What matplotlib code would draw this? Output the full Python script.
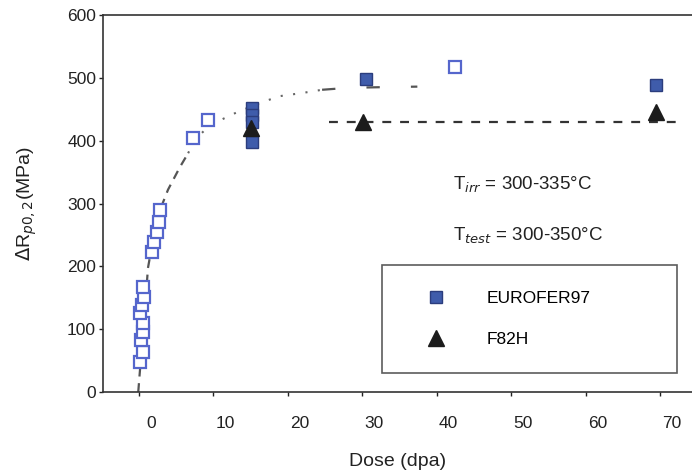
import matplotlib.pyplot as plt
import matplotlib.transforms as mtransforms

plt.rcParams['font.family'] = ['Liberation Sans', 'DejaVu Sans']

# open squares (EUROFER97, other irradiations)
open_dose = [0.1, 0.5, 0.3, 0.6, 0.5, 0.2, 0.4, 0.7, 0.5, 1.7, 2.0, 2.4, 2.7, 2.8, 7.3, 9.3, 42.5]
open_val = [48, 64, 83, 96, 110, 126, 139, 151, 167, 223, 239, 255, 271, 290, 404, 433, 517]

# EUROFER97 filled squares
eurofer_dose = [15.2, 15.2, 15.2, 15.2, 30.5, 69.5]
eurofer_val = [452, 441, 430, 398, 498, 489]

# F82H triangles
f82h_dose = [15.0, 30.1, 69.4]
f82h_val = [420, 430, 446]

# trend curve
curve_dose = [-0.1, 0.3, 0.8, 1.2, 2.0, 3.0, 3.9, 5.5, 6.6, 7.5, 9.1, 11.0, 13.3, 16.7, 19.0, 22.0, 24.6, 28.0, 32.0, 37.4]
curve_val = [0, 60, 130, 197, 250, 295, 322, 358, 380, 401, 420, 433, 446, 462, 471, 476, 481, 484, 485, 486]

# F82H level line
f82h_line_dose = [25.5, 72.5]
f82h_line_val = [430, 430]

xticks = [0, 10, 20, 30, 40, 50, 60, 70]
yticks = [0, 100, 200, 300, 400, 500, 600]

fig = plt.figure(figsize=(6.92, 4.73), dpi=100)
ax = fig.add_axes([0.1488, 0.1712, 0.8512, 0.7971])

# curve: dashed, then dotted, then sparse dashes
ax.plot(curve_dose[:9], curve_val[:9], color='#555555', lw=1.6, dashes=(4, 3), zorder=1)
ax.plot(curve_dose[8:17], curve_val[8:17], color='#666666', lw=1.5, dashes=(1, 5), zorder=1)
ax.plot(curve_dose[16:], curve_val[16:], color='#555555', lw=1.6, dashes=(6, 14), zorder=1)
ax.plot(f82h_line_dose, f82h_line_val, color='#333333', lw=1.6, dashes=(4, 4), zorder=1)

ax.plot(open_dose, open_val, ls='none', marker='s', ms=8.5, mfc='white',
        mec='#5566cc', mew=1.6, zorder=2)
ax.plot(eurofer_dose, eurofer_val, ls='none', marker='s', ms=9, mfc='#3f5cab',
        mec='#2b3d7d', mew=1.0, label='EUROFER97', zorder=3)
ax.plot(f82h_dose, f82h_val, ls='none', marker='^', ms=11, mfc='#1c1c1c',
        mec='#1c1c1c', label='F82H', zorder=4)

ax.set_xlim(-4.84, 74.3)
ax.set_ylim(0, 600)
ax.set_xticks(xticks)
ax.set_yticks(yticks)
ax.tick_params(direction='out', length=3, width=1, labelsize=12.5, colors='#222222', pad=2)
ax.tick_params(axis='x', pad=14)

# tick labels sit a bit right of the tick marks in the original
offset = mtransforms.ScaledTranslation(12 / 100, 0, fig.dpi_scale_trans)
for lab in ax.get_xticklabels():
    lab.set_transform(lab.get_transform() + offset)

for s in ['left', 'bottom', 'top']:
    ax.spines[s].set_linewidth(1.2)
    ax.spines[s].set_color('#333333')
ax.spines['right'].set_visible(False)

ax.set_xlabel('Dose (dpa)', fontsize=14, color='#222222', labelpad=16)
ax.set_ylabel(r'$\Delta$R$_{p0,2}$(MPa)', fontsize=14, color='#222222', labelpad=20)

fig.text(453 / 692, 1 - 185 / 473, r'T$_{irr}$ = 300-335°C', fontsize=13.5,
         va='center', color='#222222')
fig.text(453 / 692, 1 - 236 / 473, r'T$_{test}$ = 300-350°C', fontsize=13.5,
         va='center', color='#222222')

leg = ax.legend(loc='upper left',
                bbox_to_anchor=(382 / 692, 1 - 378 / 473, 295 / 692, 113 / 473),
                bbox_transform=fig.transFigure, mode='expand', borderaxespad=0,
                fontsize=12.5, frameon=True, fancybox=False, borderpad=1.5,
                labelspacing=1.5, handlelength=3.2, handletextpad=1.3)
leg.get_frame().set_edgecolor('#333333')
leg.get_frame().set_linewidth(1.2)

fig.savefig('out.png', dpi=100)
